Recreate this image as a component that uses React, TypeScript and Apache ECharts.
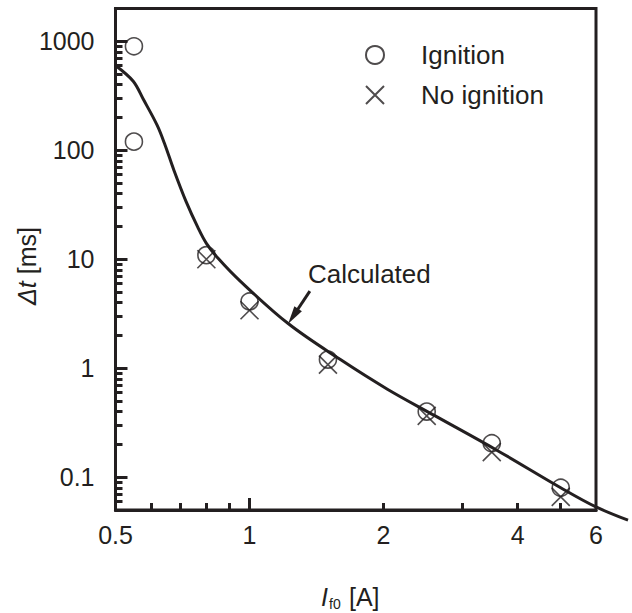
import React, { useEffect, useRef } from 'react';
import * as echarts from 'echarts';

// Calculated curve (I_f0 [A], Δt [ms])
const curveX = [0.5, 0.548, 0.577, 0.62, 0.646, 0.676, 0.72, 0.766, 0.8, 0.85, 0.953, 1.221, 1.6, 2.04, 2.6, 3.6, 5.01, 6.0, 7.08];
const curveY = [600, 430, 295, 170, 112, 66, 34, 19.5, 14, 10.2, 6.3, 2.57, 1.2, 0.642, 0.369, 0.176, 0.0796, 0.0533, 0.0403];

// Measured points
const ignitionX = [0.55, 0.55, 0.8, 1.0, 1.5, 2.5, 3.5, 5.0];
const ignitionY = [900, 120, 10.9, 4.1, 1.2, 0.4, 0.205, 0.08];
const noIgnitionX = [0.8, 1.0, 1.5, 2.5, 3.5, 5.0];
const noIgnitionY = [10, 3.4, 1.08, 0.365, 0.17, 0.066];

// Axis ticks
const xTickLabels = [0.5, 1, 2, 4, 6];
const xMajorTicks = [1];
const xMinorTicks = [0.6, 0.7, 0.8, 0.9, 2, 3, 4, 5];
const yTickLabels = [0.1, 1, 10, 100, 1000];
const yMinorTicks = [
  0.06, 0.07, 0.08, 0.09,
  0.2, 0.3, 0.4, 0.5, 0.6, 0.7, 0.8, 0.9,
  2, 3, 4, 5, 6, 7, 8, 9,
  20, 30, 40, 50, 60, 70, 80, 90,
  200, 300, 400, 500, 600, 700, 800, 900,
];

// Annotation (data coordinates)
const arrowFrom = [1.366, 5.1];
const arrowTo = [1.253, 3.0];
const annotationAt = [1.858, 7.26];

const C = '#231f20';
const FONT = '"Liberation Sans", Arial, Helvetica, sans-serif';

export default function App() {
  const ref = useRef<HTMLDivElement>(null);
  useEffect(() => {
    if (!ref.current) return;
    const chart = echarts.init(ref.current, undefined, { renderer: 'svg' });
    const axisCommon = {
      type: 'log',
      logBase: 10,
      splitLine: { show: false },
      minorSplitLine: { show: false },
    };
    chart.setOption({
      animation: false,
      backgroundColor: '#fff',
      textStyle: { fontFamily: FONT },
      grid: {
        left: 115.5,
        right: 36,
        top: 8.5,
        bottom: 103,
        show: true,
        borderWidth: 3,
        borderColor: C,
        backgroundColor: 'transparent',
      },
      legend: {
        data: ['Ignition', 'No ignition'],
        orient: 'vertical',
        left: 365,
        top: 42,
        padding: 0,
        itemWidth: 18,
        itemHeight: 18,
        itemGap: 14,
        textStyle: { fontSize: 26, color: C, fontFamily: FONT, padding: [0, 0, 0, 32] },
      },
      xAxis: [
        {
          ...axisCommon,
          min: 0.5,
          max: 6,
          position: 'bottom',
          axisLine: { show: true, lineStyle: { color: C, width: 3 } },
          axisTick: { show: true, inside: true, length: 12, customValues: xMajorTicks, lineStyle: { color: C, width: 3 } },
          axisLabel: {
            show: true,
            customValues: xTickLabels,
            fontSize: 25,
            color: C,
            fontFamily: FONT,
            margin: 12,
            formatter: (v: number) => String(v),
          },
        },
        {
          ...axisCommon,
          min: 0.5,
          max: 6,
          position: 'bottom',
          axisLine: { show: false },
          axisTick: { show: true, inside: true, length: 7, customValues: xMinorTicks, lineStyle: { color: C, width: 3 } },
          axisLabel: { show: false },
        },
      ],
      yAxis: [
        {
          ...axisCommon,
          min: 0.05,
          max: 2000,
          position: 'left',
          axisLine: { show: true, lineStyle: { color: C, width: 3 } },
          axisTick: { show: true, inside: true, length: 12, customValues: yTickLabels, lineStyle: { color: C, width: 3 } },
          axisLabel: {
            show: true,
            customValues: yTickLabels,
            fontSize: 25,
            color: C,
            fontFamily: FONT,
            margin: 21,
            formatter: (v: number) => String(v),
          },
        },
        {
          ...axisCommon,
          min: 0.05,
          max: 2000,
          position: 'left',
          axisLine: { show: false },
          axisTick: { show: true, inside: true, length: 7, customValues: yMinorTicks, lineStyle: { color: C, width: 3 } },
          axisLabel: { show: false },
        },
      ],
      graphic: [
        {
          type: 'text',
          x: 27,
          y: 266,
          rotation: Math.PI / 2,
          style: {
            text: '{i|Δt} [ms]',
            fontSize: 25,
            fontFamily: FONT,
            fill: C,
            align: 'center',
            verticalAlign: 'middle',
            rich: { i: { fontStyle: 'italic', fontSize: 25, fontFamily: FONT, fill: C } },
          },
        },
        {
          type: 'text',
          x: 321,
          y: 597,
          style: { text: 'I', fontStyle: 'italic', fontSize: 25, fontFamily: FONT, fill: C, align: 'left', verticalAlign: 'middle' },
        },
        {
          type: 'text',
          x: 329,
          y: 604,
          style: { text: 'f0', fontSize: 14, fontFamily: FONT, fill: C, align: 'left', verticalAlign: 'middle' },
        },
        {
          type: 'text',
          x: 349,
          y: 597,
          style: { text: '[A]', fontSize: 25, fontFamily: FONT, fill: C, align: 'left', verticalAlign: 'middle' },
        },
      ],
      series: [
        {
          name: 'Calculated',
          type: 'custom',
          coordinateSystem: 'cartesian2d',
          xAxisIndex: 0,
          yAxisIndex: 0,
          clip: false,
          silent: true,
          data: [[curveX[0], curveY[0]]],
          encode: { x: 0, y: 1 },
          renderItem: (_params: any, api: any) => ({
            type: 'polyline',
            shape: {
              points: curveX.map((x, i) => api.coord([x, curveY[i]])),
              smooth: 0.35,
            },
            style: { stroke: C, lineWidth: 3, fill: 'none' },
          }),
          z: 3,
          markLine: {
            silent: true,
            symbol: ['none', 'triangle'],
            symbolSize: [9, 18],
            lineStyle: { color: C, width: 3, type: 'solid' },
            itemStyle: { color: C },
            label: { show: false },
            data: [[{ coord: arrowFrom }, { coord: arrowTo }]],
          },
          markPoint: {
            silent: true,
            symbol: 'circle',
            symbolSize: 1,
            itemStyle: { color: 'transparent' },
            label: { show: true, position: 'inside', formatter: 'Calculated', fontSize: 26, color: C, fontFamily: FONT },
            data: [{ coord: annotationAt }],
          },
        },
        {
          name: 'Ignition',
          type: 'scatter',
          xAxisIndex: 0,
          yAxisIndex: 0,
          data: ignitionX.map((x, i) => [x, ignitionY[i]]),
          symbol: 'circle',
          symbolSize: 17,
          clip: false,
          itemStyle: { color: 'transparent', borderColor: C, borderWidth: 1.6 },
          z: 4,
        },
        {
          name: 'No ignition',
          type: 'scatter',
          xAxisIndex: 0,
          yAxisIndex: 0,
          data: noIgnitionX.map((x, i) => [x, noIgnitionY[i]]),
          symbol: 'path://M0,0L10,10M10,0L0,10',
          symbolSize: 18,
          clip: false,
          itemStyle: { color: 'transparent', borderColor: C, borderWidth: 1.6 },
          z: 4,
        },
      ],
    });
    return () => chart.dispose();
  }, []);
  return <div ref={ref} style={{ position: 'absolute', left: 0, top: 0, width: 632, height: 613 }} />;
}
